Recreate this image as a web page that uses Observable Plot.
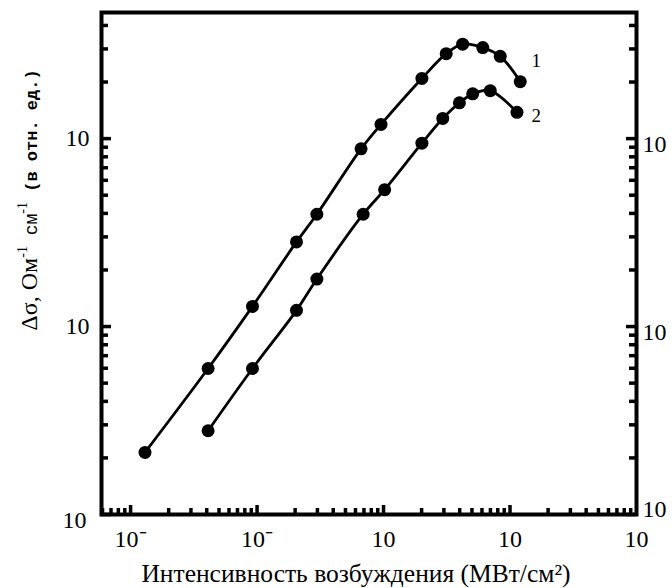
<!DOCTYPE html>
<html>
<head>
<meta charset="utf-8">
<script src="https://cdn.jsdelivr.net/npm/d3@7"></script>
<script src="https://cdn.jsdelivr.net/npm/@observablehq/plot@0.6"></script>
<style>
  html, body { margin: 0; padding: 0; background: #fff; }
  svg { display: block; }
  svg text { font-family: "Liberation Serif", serif; }
</style>
</head>
<body>
<script>
// ---- data ----
const x1 = [0.013, 0.041, 0.092, 0.205, 0.297, 0.664, 0.955, 2.01, 3.13, 4.22, 6.09, 8.37, 12.05];
const y1 = [2.14, 5.98, 12.8, 28.2, 39.6, 88.2, 119, 209, 283, 318, 305, 274, 201];
const x2 = [0.041, 0.092, 0.205, 0.297, 0.69, 1.02, 2.01, 2.94, 3.98, 5.07, 6.98, 11.35];
const y2 = [2.79, 5.98, 12.2, 17.9, 39.6, 53.5, 94.6, 128, 155, 173, 180, 138];

const seriesNames = ["1", "2"];
const seriesLabelX = [16.1, 16.1];
const seriesLabelY = [259, 132];

const xTickValues = [0.01, 0.1, 1, 10, 100];
const xTickLabels = ["10⁻", "10⁻", "10", "10", "10"];
const yTickValues = [1, 10, 100];
const yTickLabels = ["10", "10", "10"];

const xTitle = "Интенсивность возбуждения (МВт/см²)";
const yTitleParts = ["Δσ, Ом", "-1", " см", "-1", " (в отн. ед.)"];

const xDomain = [Math.pow(10, -2.23), 100];
const yDomain = [1, Math.pow(10, 2.671)];

// ---- build tables ----
const table1 = x1.map((x, i) => ({x, y: y1[i], s: "1"}));
const table2 = x2.map((x, i) => ({x, y: y2[i], s: "2"}));
const labels = seriesNames.map((s, i) => ({s, x: seriesLabelX[i], y: seriesLabelY[i]}));
const yTicks = yTickValues.map((v, i) => ({v, t: yTickLabels[i]}));

const isMajor = v => Math.abs(Math.log10(v) - Math.round(Math.log10(v))) < 1e-9;
const xAll = d3.scaleLog().domain(xDomain).ticks().filter(v => v >= xDomain[0] && v <= xDomain[1]);
const yAll = d3.scaleLog().domain(yDomain).ticks().filter(v => v >= yDomain[0] && v <= yDomain[1]);
const xMinor = xAll.filter(v => !isMajor(v));
const yMinor = yAll.filter(v => !isMajor(v));
const xMajor = xTickValues;
const yMajor = yTickValues;

const W = 672, H = 588;
const mL = 101, mR = 36, mT = 12, mB = 74;
const fw = W - mL - mR, fh = H - mT - mB;

const serif = "Liberation Serif";
const mono = "Liberation Mono";
const lowest = yTickValues[0];

const svg = Plot.plot({
  width: W,
  height: H,
  marginLeft: mL,
  marginRight: mR,
  marginTop: mT,
  marginBottom: mB,
  style: {background: "#fff", fontFamily: serif, color: "#000"},
  x: {type: "log", domain: xDomain, axis: null},
  y: {type: "log", domain: yDomain, axis: null},
  marks: [
    // ticks (inward)
    Plot.tickY(yMajor, {y: d => d, stroke: "#000", strokeWidth: 3.5, insetRight: fw - 10}),
    Plot.tickY(yMinor, {y: d => d, stroke: "#000", strokeWidth: 3.5, insetRight: fw - 7}),
    Plot.tickY(yMajor, {y: d => d, stroke: "#000", strokeWidth: 3.5, insetLeft: fw - 10}),
    Plot.tickY(yMinor, {y: d => d, stroke: "#000", strokeWidth: 3.5, insetLeft: fw - 7}),
    Plot.tickX(xMajor.filter(v => v < xDomain[1] * 0.999), {x: d => d, stroke: "#000", strokeWidth: 3.5, insetTop: fh - 9}),
    Plot.tickX(xMinor, {x: d => d, stroke: "#000", strokeWidth: 3.5, insetTop: fh - 6}),
    Plot.frame({stroke: "#000", strokeWidth: 4}),
    // tick labels
    Plot.text(yTicks.filter(d => d.v !== lowest), {y: "v", text: "t", frameAnchor: "left", dx: -12, textAnchor: "end", fontSize: 24, fontFamily: serif, fill: "#000"}),
    Plot.text(yTicks.filter(d => d.v === lowest), {y: "v", text: "t", frameAnchor: "left", dx: -15, dy: 6, textAnchor: "end", fontSize: 24, fontFamily: serif, fill: "#000"}),
    Plot.text(yTicks.filter(d => d.v !== lowest), {y: "v", text: "t", frameAnchor: "right", dx: 6, dy: 6, textAnchor: "start", fontSize: 24, fontFamily: serif, fill: "#000"}),
    Plot.text(yTicks.filter(d => d.v === lowest), {y: "v", text: "t", frameAnchor: "right", dx: 6, dy: -5, textAnchor: "start", fontSize: 24, fontFamily: serif, fill: "#000"}),
    Plot.text(xTickValues, {x: d => d, text: (d, i) => xTickLabels[i], frameAnchor: "bottom", dy: 32, fontSize: 24, fontFamily: serif, fill: "#000"}),
    // data
    Plot.line(table1, {x: "x", y: "y", stroke: "#000", strokeWidth: 2.8, curve: "catmull-rom"}),
    Plot.line(table2, {x: "x", y: "y", stroke: "#000", strokeWidth: 2.8, curve: "catmull-rom"}),
    Plot.dot(table1, {x: "x", y: "y", r: 6.5, fill: "#000", stroke: "none"}),
    Plot.dot(table2, {x: "x", y: "y", r: 6.5, fill: "#000", stroke: "none"}),
    Plot.text(labels, {x: "x", y: "y", text: "s", fontSize: 19, fontFamily: serif, fill: "#000"})
  ]
});

// x-axis title
d3.select(svg).append("text")
  .attr("x", 356)
  .attr("y", 582)
  .attr("text-anchor", "middle")
  .style("font-family", serif)
  .style("font-size", "25.5px")
  .attr("fill", "#000")
  .text(xTitle);

// y-axis title (mixed fonts)
const yt = d3.select(svg).append("text")
  .attr("transform", "translate(37,200) rotate(-90)")
  .attr("text-anchor", "middle")
  .attr("fill", "#000");
yt.append("tspan").style("font-family", serif).style("font-size", "24px").text(yTitleParts[0]);
yt.append("tspan").style("font-family", serif).style("font-size", "14px").attr("dy", -10).text(yTitleParts[1]);
yt.append("tspan").style("font-family", mono).style("font-size", "18px").attr("dy", 10).text(yTitleParts[2]);
yt.append("tspan").style("font-family", serif).style("font-size", "14px").attr("dy", -10).text(yTitleParts[3]);
yt.append("tspan").style("font-family", mono).style("font-weight", "bold").style("font-size", "17px").attr("dy", 10).text(yTitleParts[4]);

document.body.appendChild(svg);
</script>
</body>
</html>
